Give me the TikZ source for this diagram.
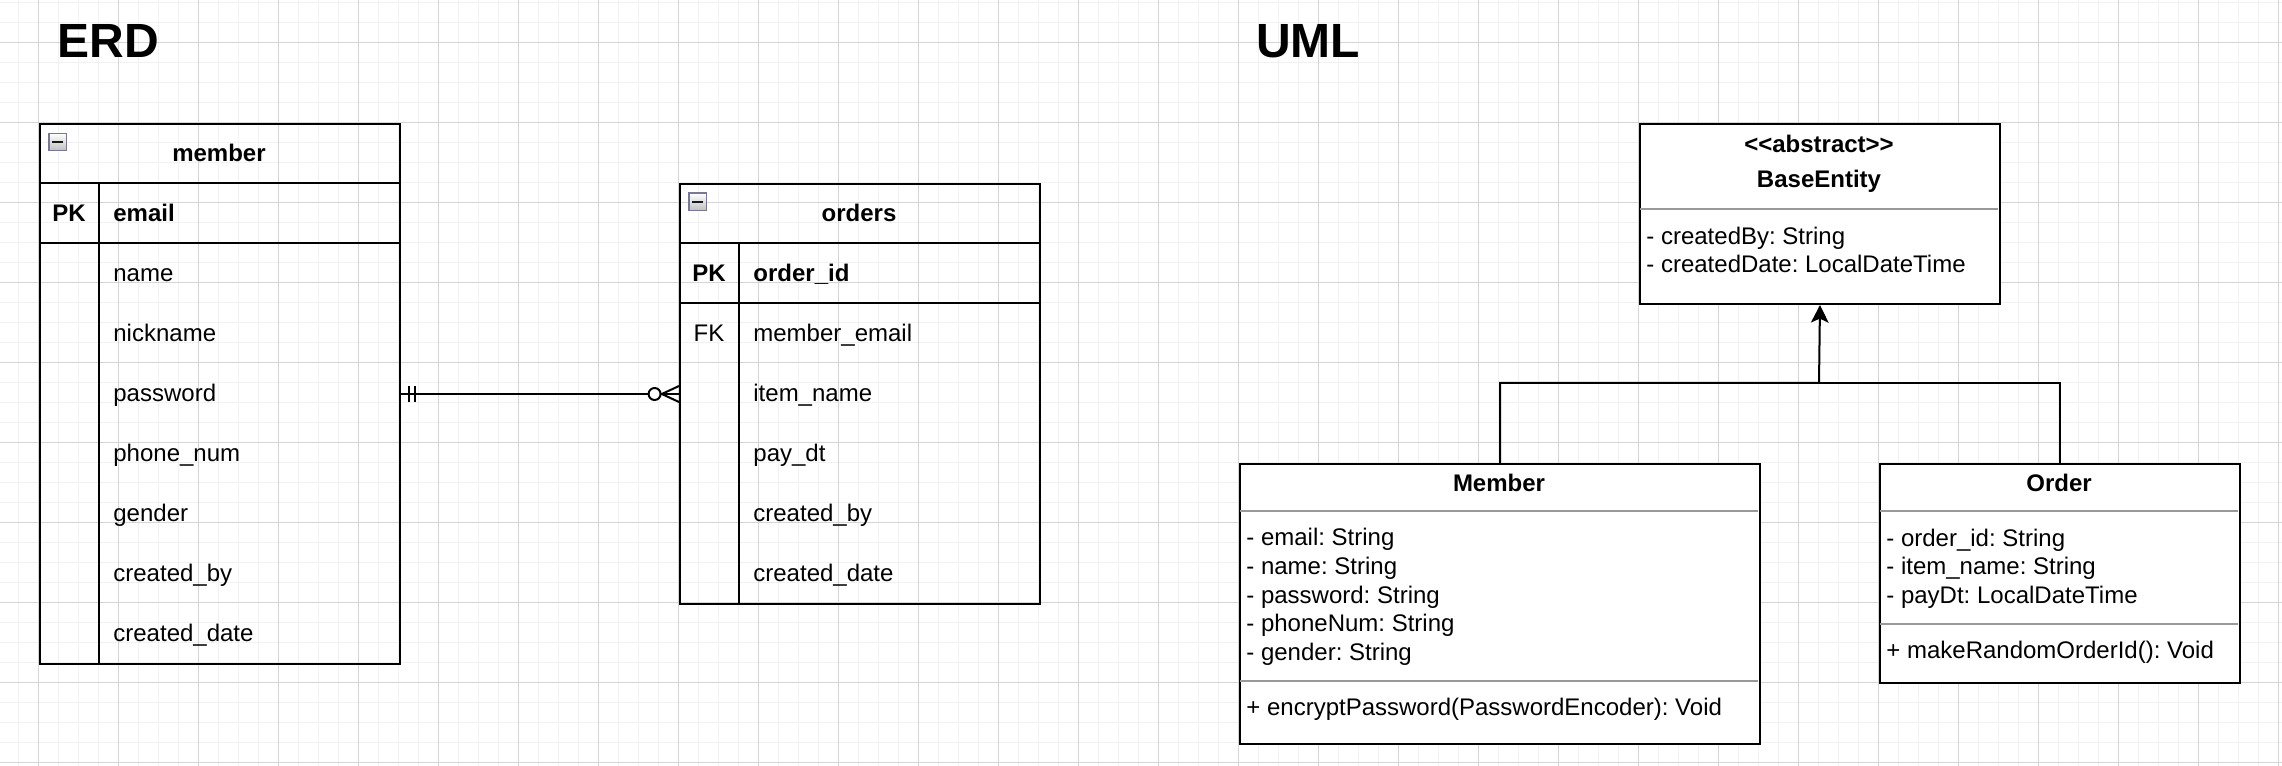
\documentclass[tikz,border=0pt]{standalone}
\usepackage{fontspec}
\setmainfont{Liberation Sans}
\usetikzlibrary{arrows.meta}
\definecolor{minorgrid}{RGB}{241,241,241}
\definecolor{majorgrid}{RGB}{213,213,213}
\definecolor{sepgray}{RGB}{153,153,153}
\definecolor{iconedge}{RGB}{120,120,145}
\frenchspacing
\begin{document}
\begin{tikzpicture}[x=1pt,y=-1pt,
  box/.style={draw=black,line width=1pt,inner sep=0pt,anchor=north west},
  umlbox/.style={box,fill=white},
  txt/.style={inner sep=0pt,font=\fontsize{12}{14.4}\selectfont},
  btxt/.style={inner sep=0pt,font=\fontsize{12}{14.4}\selectfont\bfseries},
  heading/.style={inner sep=0pt,font=\fontsize{24}{28}\selectfont\bfseries,anchor=base west},
  sepline/.style={draw=sepgray,line width=1pt},
  rowline/.style={draw=black,line width=1pt},
  conn/.style={draw=black,line width=1pt},
  collapse/.style={draw=iconedge,line width=0.6pt,top color=white,bottom color=black!25,
    minimum size=8.8pt,inner sep=0pt,anchor=north west,
    path picture={\draw[black!90,line width=1.1pt]
      ([xshift=1.6pt]path picture bounding box.west) -- ([xshift=-1.6pt]path picture bounding box.east);}},
]
\useasboundingbox (0,0) rectangle (1141,383);
\fill[white] (0,0) rectangle (1141,383);
% grid
\foreach \i in {1,...,114} \draw[minorgrid,line width=0.5pt] ({-0.8+10*\i},0) -- ({-0.8+10*\i},383);
\foreach \i in {0,...,38} \draw[minorgrid,line width=0.5pt] (0,{1.2+10*\i}) -- (1141,{1.2+10*\i});
\foreach \i in {0,...,28} \draw[majorgrid,line width=0.5pt] ({19.2+40*\i},0) -- ({19.2+40*\i},383);
\foreach \i in {0,...,9} \draw[majorgrid,line width=0.5pt] (0,{21.2+40*\i}) -- (1141,{21.2+40*\i});

% titles
\node[heading] (erd) at (28.6,28.9) {ERD};
\node[heading] (uml) at (627.8,28.9) {UML};

% ERD member table
\node[box,minimum width=180pt,minimum height=270pt] (mtab) at (19.5,61.5) {};
\draw[rowline] (19.5,91.5) -- (199.5,91.5);
\draw[rowline] (19.5,121.5) -- (199.5,121.5);
\draw[rowline] (49.5,91.5) -- (49.5,331.5);
\node[collapse] (micon) at (24.2,66.3) {};
\node[btxt,anchor=base] (mtitle) at (109.5,80.8) {member};
\node[btxt,anchor=base] (mpk) at (34.5,110.8) {PK};
\node[btxt,anchor=base west] (memail) at (56.5,110.8) {email};
\node[txt,anchor=base west] (mname) at (56.5,140.8) {name};
\node[txt,anchor=base west] (mnick) at (56.5,170.8) {nickname};
\node[txt,anchor=base west] (mpass) at (56.5,200.8) {password};
\node[txt,anchor=base west] (mphone) at (56.5,230.8) {phone\_num};
\node[txt,anchor=base west] (mgender) at (56.5,260.8) {gender};
\node[txt,anchor=base west] (mcby) at (56.5,290.8) {created\_by};
\node[txt,anchor=base west] (mcdate) at (56.5,320.8) {created\_date};

% ERD orders table
\node[box,minimum width=180pt,minimum height=210pt] (otab) at (339.5,91.5) {};
\draw[rowline] (339.5,121.5) -- (519.5,121.5);
\draw[rowline] (339.5,151.5) -- (519.5,151.5);
\draw[rowline] (369.5,121.5) -- (369.5,301.5);
\node[collapse] (oicon) at (344.2,96.2) {};
\node[btxt,anchor=base] (otitle) at (429.5,110.8) {orders};
\node[btxt,anchor=base] (opk) at (354.5,140.8) {PK};
\node[btxt,anchor=base west] (oid) at (376.5,140.8) {order\_id};
\node[txt,anchor=base] (ofk) at (354.5,170.8) {FK};
\node[txt,anchor=base west] (omail) at (376.5,170.8) {member\_email};
\node[txt,anchor=base west] (oitem) at (376.5,200.8) {item\_name};
\node[txt,anchor=base west] (opay) at (376.5,230.8) {pay\_dt};
\node[txt,anchor=base west] (ocby) at (376.5,260.8) {created\_by};
\node[txt,anchor=base west] (ocdate) at (376.5,290.8) {created\_date};

% relationship
\draw[conn] (mtab.east) -- (otab.west);
\draw[conn] ([xshift=3.8pt]mtab.east) ++(0,-4) -- ++(0,8);
\draw[conn] ([xshift=7.2pt]mtab.east) ++(0,-4) -- ++(0,8);
\draw[conn,fill=white] ([xshift=-12.2pt]otab.west) circle[radius=3pt];
\draw[conn] ([yshift=4pt]otab.west) -- ([xshift=-8.6pt]otab.west) -- ([yshift=-4pt]otab.west);

% UML BaseEntity
\node[umlbox,minimum width=180pt,minimum height=90pt] (base) at (819.5,61.5) {};
\draw[sepline] (820,104.4) -- (999,104.4);
\node[btxt,anchor=base] (babs) at (909.5,76.2) {<\kern0pt<abstract>\kern0pt>};
\node[btxt,anchor=base] (bname) at (909.5,93.8) {BaseEntity};
\node[txt,anchor=base west] (bby) at (823,122) {- createdBy: String};
\node[txt,anchor=base west] (bdate) at (823,136) {- createdDate: LocalDateTime};

% UML Member
\node[umlbox,minimum width=260pt,minimum height=140pt] (umem) at (619.5,231.5) {};
\draw[sepline] (620,255.5) -- (879,255.5);
\draw[sepline] (620,340.3) -- (879,340.3);
\node[btxt,anchor=base] (umtitle) at (749.5,245.6) {Member};
\node[txt,anchor=base west] (um1) at (623,272.7) {- email: String};
\node[txt,anchor=base west] (um2) at (623,287.1) {- name: String};
\node[txt,anchor=base west] (um3) at (623,301.5) {- password: String};
\node[txt,anchor=base west] (um4) at (623,315.9) {- phoneNum: String};
\node[txt,anchor=base west] (um5) at (623,330.3) {- gender: String};
\node[txt,anchor=base west] (umm) at (623,357.5) {+ encryptPassword(PasswordEncoder): Void};

% UML Order
\node[umlbox,minimum width=180pt,minimum height=109.7pt] (uord) at (939.5,231.5) {};
\draw[sepline] (940,255.5) -- (1119,255.5);
\draw[sepline] (940,312.2) -- (1119,312.2);
\node[btxt,anchor=base] (uotitle) at (1029.5,245.6) {Order};
\node[txt,anchor=base west] (uo1) at (943,273) {- order\_id: String};
\node[txt,anchor=base west] (uo2) at (943,287.4) {- item\_name: String};
\node[txt,anchor=base west] (uo3) at (943,301.8) {- payDt: LocalDateTime};
\node[txt,anchor=base west] (uom) at (943,329.4) {+ makeRandomOrderId(): Void};

% inheritance connectors
\coordinate (jn) at (909.5,191.4);
\draw[conn,-{Stealth[length=8.8pt,width=8.8pt,inset=2pt]}] (umem.north) |- (jn) -- (base.south);
\draw[conn] (uord.north) |- (jn);
\end{tikzpicture}
\end{document}
